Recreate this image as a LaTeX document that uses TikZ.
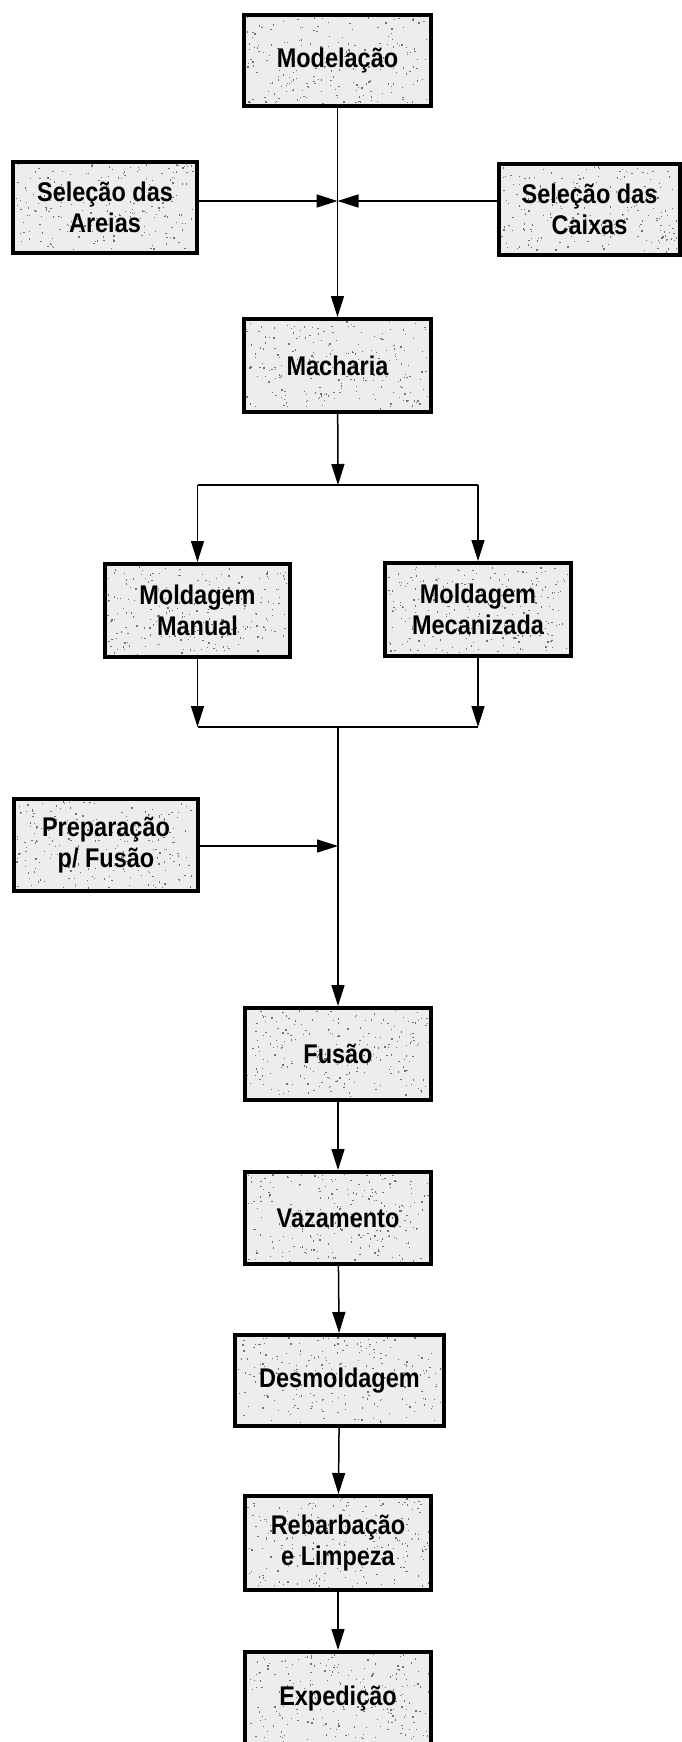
\documentclass[tikz,border=0pt]{standalone}
\usepackage{fontspec}
\setmainfont{Liberation Sans}[FakeStretch=0.87]
\usetikzlibrary{arrows.meta,calc}

\tikzset{
  stagebox/.style={draw=black, line width=4pt, fill=black!7, inner sep=0pt,
    align=center, font=\bfseries\fontsize{27}{31}\selectfont,
    path picture={%
      % grey grain inside the box, under the label
      \foreach \k in {1,...,220}{%
        \fill[black!55] let \p1=(path picture bounding box.south west),
                            \p2=(path picture bounding box.north east) in
          ({\x1+2+rnd*(\x2-\x1-5)},{\y1+2+rnd*(\y2-\y1-5)}) rectangle ++(1.3pt,1.3pt);
      }}},
  flow/.style={line width=1.5pt, draw=black},
  arr/.style={flow, -{Triangle[length=21pt,width=13pt]}},
}

\begin{document}
\begin{tikzpicture}[x=1pt, y=-1pt]
\pgfmathsetseed{11}
\useasboundingbox (0,0) rectangle (682,1742);

% process stages (outer size minus the 4pt border)
\node[stagebox, minimum width=187pt, minimum height=91pt] (model) at (337.5,60.5) {Modelação};
\node[stagebox, minimum width=184pt, minimum height=91pt] (areias) at (105,207.5) {Seleção das\\Areias};
\node[stagebox, minimum width=181pt, minimum height=91pt] (caixas) at (589.5,209.5) {Seleção das\\Caixas};
\node[stagebox, minimum width=187pt, minimum height=93pt] (mach) at (337.5,365.5) {Macharia};
\node[stagebox, minimum width=185pt, minimum height=93pt] (manual) at (197.5,610.5) {Moldagem\\Manual};
\node[stagebox, minimum width=186pt, minimum height=93pt] (mecan) at (478,609.5) {Moldagem\\Mecanizada};
\node[stagebox, minimum width=184pt, minimum height=92pt] (prep) at (106,845) {Preparação\\p/ Fusão};
\node[stagebox, minimum width=186pt, minimum height=92pt] (fusao) at (338,1054) {Fusão};
\node[stagebox, minimum width=186pt, minimum height=92pt] (vaz) at (338,1218) {Vazamento};
\node[stagebox, minimum width=209pt, minimum height=91pt] (desm) at (339.5,1380.5) {Desmoldagem};
\node[stagebox, minimum width=186pt, minimum height=94pt] (rebar) at (338,1543) {Rebarbação\\e Limpeza};
\node[stagebox, minimum width=186pt, minimum height=92pt] (exped) at (338,1698) {Expedição};

% junction points on the main line
\coordinate (jn) at (337.5,201);
\coordinate (sp) at (338,485);
\coordinate (mg) at (338,727);
\coordinate (pj) at (338,846);

% top: modelling, with sands and flasks joining
\draw[arr] (model) -- (mach);
\draw[arr] (areias.east |- jn) -- (jn);
\draw[arr] (caixas.west |- jn) -- (jn);

% split into manual / mechanised moulding
\draw[arr] (mach) -- (sp);
\draw[flow] (sp -| manual) -- (sp -| mecan);
\draw[arr] (sp -| manual) -- (manual);
\draw[arr] (sp -| mecan) -- (mecan);

% merge and continue to melting
\draw[arr] (manual) -- (manual |- mg);
\draw[arr] (mecan) -- (mecan |- mg);
\draw[flow] (manual |- mg) -- (mecan |- mg);
\draw[arr] (mg) -- (fusao);
\draw[arr] (prep.east |- pj) -- (pj);

% final chain
\draw[arr] (fusao) -- (vaz);
\draw[arr] (vaz) -- (desm);
\draw[arr] (desm) -- (rebar);
\draw[arr] (rebar) -- (exped);
\end{tikzpicture}
\end{document}
